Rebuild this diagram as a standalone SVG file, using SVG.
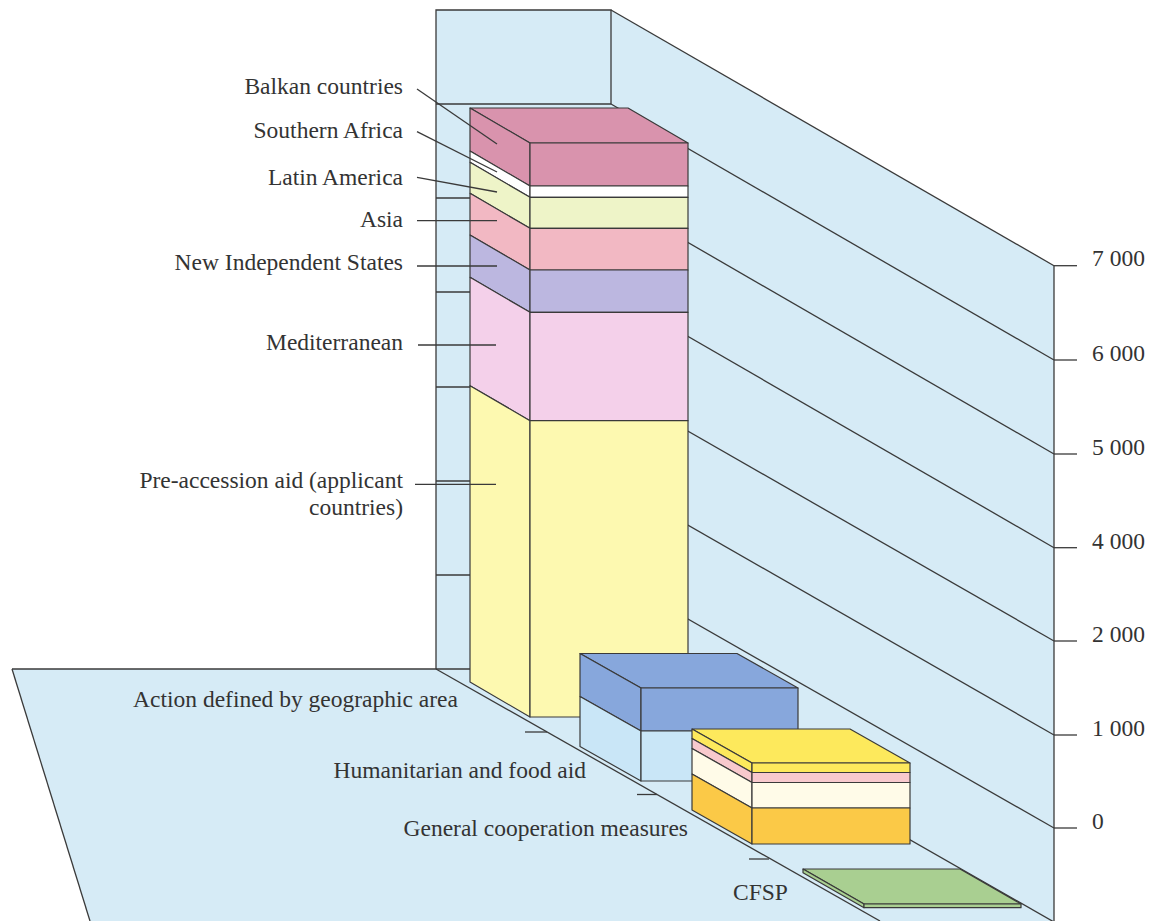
<svg xmlns="http://www.w3.org/2000/svg" width="1152" height="921" viewBox="0 0 1152 921">
<style>
.ln{stroke:#3a3a3a;stroke-width:1.3;fill:none}
.ed{stroke:#3a3a3a;stroke-width:1.2;stroke-linejoin:round}
.t{font-family:"Liberation Serif","Times New Roman",serif;font-size:23.5px;fill:#333}
.e{text-anchor:end}
.bg{fill:#d6ebf6}
</style>
<rect width="1152" height="921" fill="#ffffff"/>
<g id="backdrop">
<polygon class="bg" points="436,10 611,10 1054,265.7 1054,921 90,921 12,669 436,669"/>
<polyline class="ln" points="436,669 436,10 611,10 611,104"/>
<line class="ln" x1="12" y1="669" x2="611" y2="669"/>
<line class="ln" x1="12" y1="669" x2="90" y2="921"/>
<line class="ln" x1="436" y1="104" x2="611" y2="104"/>
<line class="ln" x1="436" y1="198" x2="611" y2="198"/>
<line class="ln" x1="436" y1="292" x2="611" y2="292"/>
<line class="ln" x1="436" y1="387" x2="611" y2="387"/>
<line class="ln" x1="436" y1="481" x2="611" y2="481"/>
<line class="ln" x1="436" y1="575" x2="611" y2="575"/>
<line class="ln" x1="611" y1="10" x2="1054" y2="265.7"/>
<line class="ln" x1="611" y1="104" x2="1054" y2="360"/>
<line class="ln" x1="611" y1="198" x2="1054" y2="454"/>
<line class="ln" x1="611" y1="292" x2="1054" y2="547.7"/>
<line class="ln" x1="611" y1="387" x2="1054" y2="641"/>
<line class="ln" x1="611" y1="481" x2="1054" y2="735"/>
<line class="ln" x1="611" y1="575" x2="1054" y2="828"/>
<line class="ln" x1="611" y1="669" x2="1054" y2="922"/>
<line class="ln" x1="436" y1="669" x2="880" y2="921"/>
<line class="ln" x1="525" y1="732" x2="547" y2="732"/>
<line class="ln" x1="637" y1="794.5" x2="657" y2="794.5"/>
<line class="ln" x1="749" y1="859" x2="769" y2="859"/>
</g>
<g id="axis">
<line class="ln" x1="1054" y1="265.7" x2="1054" y2="921"/>
<line class="ln" x1="1054" y1="265.7" x2="1077" y2="265.7"/>
<line class="ln" x1="1054" y1="360" x2="1077" y2="360"/>
<line class="ln" x1="1054" y1="454" x2="1077" y2="454"/>
<line class="ln" x1="1054" y1="547.7" x2="1077" y2="547.7"/>
<line class="ln" x1="1054" y1="641" x2="1077" y2="641"/>
<line class="ln" x1="1054" y1="735" x2="1077" y2="735"/>
<line class="ln" x1="1054" y1="828" x2="1077" y2="828"/>
<text class="t" x="1092" y="266">7 000</text>
<text class="t" x="1092" y="361">6 000</text>
<text class="t" x="1092" y="455">5 000</text>
<text class="t" x="1092" y="548.5">4 000</text>
<text class="t" x="1092" y="642">2 000</text>
<text class="t" x="1092" y="736">1 000</text>
<text class="t" x="1092" y="829">0</text>
</g>
<g id="bar-geographic">
<polygon class="ed" fill="#d993ad" points="470,108 628,108 688,143 530,143"/>
<polygon class="ed" fill="#d993ad" points="470,108 530,143 530,186 470,151"/>
<rect class="ed" fill="#d993ad" x="530" y="143" width="158" height="43"/>
<polygon class="ed" fill="#ffffff" points="470,151 530,186 530,197.3 470,162.3"/>
<rect class="ed" fill="#ffffff" x="530" y="186" width="158" height="11.3"/>
<polygon class="ed" fill="#eef4c8" points="470,162.3 530,197.3 530,228.3 470,193.3"/>
<rect class="ed" fill="#eef4c8" x="530" y="197.3" width="158" height="31"/>
<polygon class="ed" fill="#f2b8c3" points="470,193.3 530,228.3 530,270 470,235"/>
<rect class="ed" fill="#f2b8c3" x="530" y="228.3" width="158" height="41.7"/>
<polygon class="ed" fill="#bcb7e0" points="470,235 530,270 530,312.3 470,277.3"/>
<rect class="ed" fill="#bcb7e0" x="530" y="270" width="158" height="42.3"/>
<polygon class="ed" fill="#f4d0ea" points="470,277.3 530,312.3 530,420.7 470,385.7"/>
<rect class="ed" fill="#f4d0ea" x="530" y="312.3" width="158" height="108.4"/>
<polygon class="ed" fill="#fdf9b0" points="470,385.7 530,420.7 530,717 470,682"/>
<rect class="ed" fill="#fdf9b0" x="530" y="420.7" width="158" height="296.3"/>
</g>
<g id="bar-humanitarian">
<polygon class="ed" fill="#87a7dc" points="580,653.5 737,653.5 798,688 641,688"/>
<polygon class="ed" fill="#87a7dc" points="580,653.5 641,688 641,731 580,696.5"/>
<rect class="ed" fill="#87a7dc" x="641" y="688" width="157" height="43"/>
<polygon class="ed" fill="#c9e6f7" points="580,696.5 641,731 641,781 580,746.5"/>
<rect class="ed" fill="#c9e6f7" x="641" y="731" width="157" height="50"/>
</g>
<g id="bar-cooperation">
<polygon class="ed" fill="#fde95c" points="692,729 850,729 910,763 752,763"/>
<polygon class="ed" fill="#fde95c" points="692,729 752,763 752,772.5 692,738.5"/>
<rect class="ed" fill="#fde95c" x="752" y="763" width="158" height="9.5"/>
<polygon class="ed" fill="#f8c9cd" points="692,738.5 752,772.5 752,782.5 692,748.5"/>
<rect class="ed" fill="#f8c9cd" x="752" y="772.5" width="158" height="10"/>
<polygon class="ed" fill="#fffbe8" points="692,748.5 752,782.5 752,808 692,774"/>
<rect class="ed" fill="#fffbe8" x="752" y="782.5" width="158" height="25.5"/>
<polygon class="ed" fill="#fbc947" points="692,774 752,808 752,844 692,810"/>
<rect class="ed" fill="#fbc947" x="752" y="808" width="158" height="36"/>
</g>
<g id="bar-cfsp">
<polygon class="ed" fill="#a9cf91" points="803,869 960,869 1021,904 864,904"/>
<polygon class="ed" fill="#a9cf91" points="803,869 864,904 864,907.7 803,872.7"/>
<rect class="ed" fill="#a9cf91" x="864" y="904" width="157" height="3.7"/>
</g>
<g id="connectors">
<line class="ln" x1="417" y1="89" x2="497" y2="144"/>
<line class="ln" x1="417" y1="131.7" x2="497" y2="172"/>
<line class="ln" x1="417" y1="177.3" x2="497" y2="192"/>
<line class="ln" x1="417" y1="220.7" x2="497" y2="220.7"/>
<line class="ln" x1="417" y1="266" x2="497" y2="266"/>
<line class="ln" x1="418" y1="345" x2="496" y2="345"/>
<line class="ln" x1="415" y1="484.3" x2="496" y2="484.3"/>
</g>
<g id="labels">
<text class="t e" x="403" y="94">Balkan countries</text>
<text class="t e" x="403" y="138.3">Southern Africa</text>
<text class="t e" x="403" y="185">Latin America</text>
<text class="t e" x="403" y="226.7">Asia</text>
<text class="t e" x="403" y="270">New Independent States</text>
<text class="t e" x="403" y="350">Mediterranean</text>
<text class="t e" x="403" y="488.3">Pre-accession aid (applicant</text>
<text class="t e" x="403" y="515">countries)</text>
<text class="t e" x="458" y="706.7">Action defined by geographic area</text>
<text class="t e" x="586" y="778">Humanitarian and food aid</text>
<text class="t e" x="688" y="836">General cooperation measures</text>
<text class="t" x="733" y="900">CFSP</text>
</g>
</svg>
